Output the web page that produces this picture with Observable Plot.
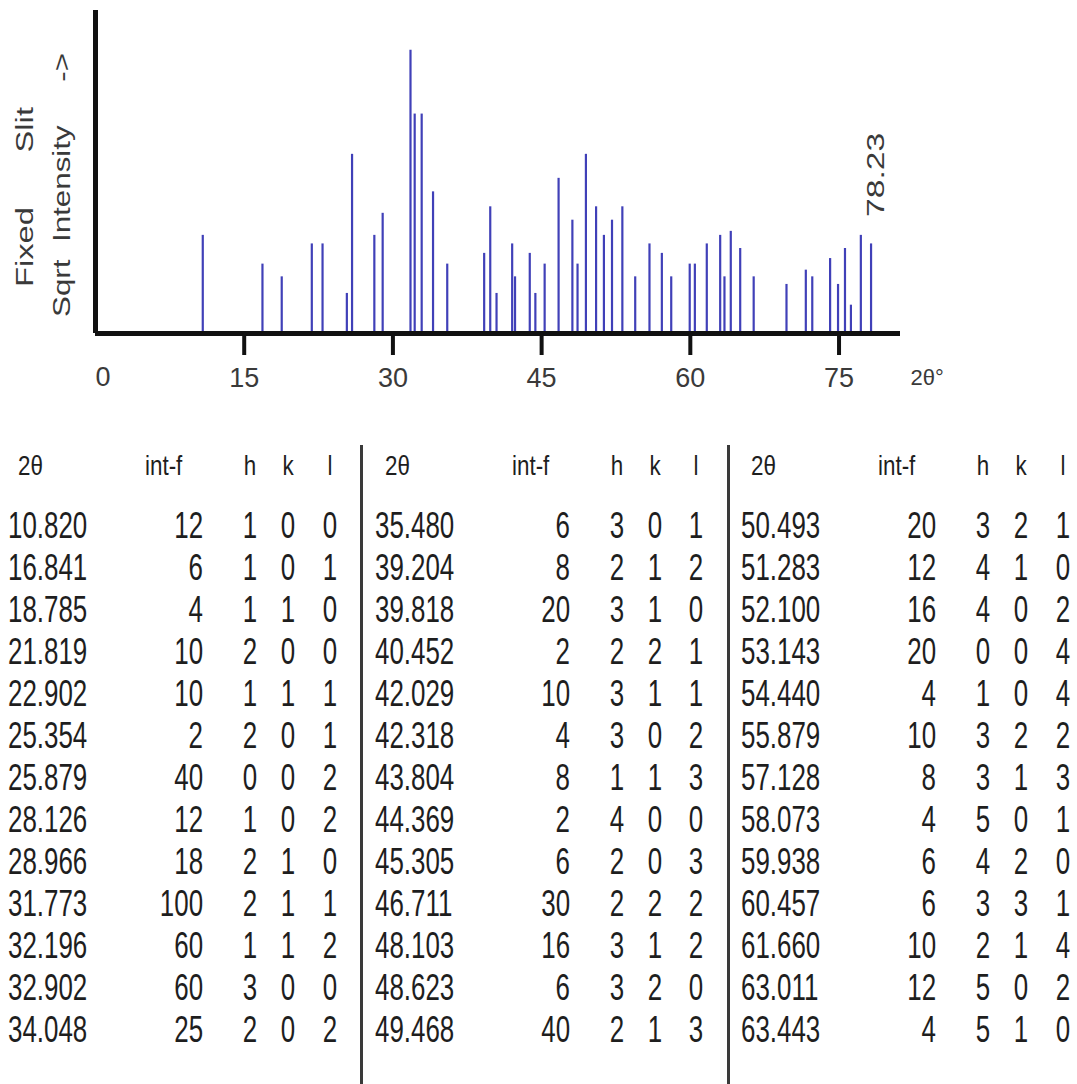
<!DOCTYPE html>
<html>
<head>
<meta charset="utf-8">
<script src="https://cdn.jsdelivr.net/npm/d3@7"></script>
<script src="https://cdn.jsdelivr.net/npm/@observablehq/plot@0.6"></script>
<style>
  body { margin: 0; background: #fff; font-family: "Liberation Sans", Arial, sans-serif; }
  #wrap { position: relative; width: 1077px; height: 1084px; overflow: hidden; background: #fff; }
  #chart { position: absolute; left: 0; top: 0; }
  #table { position: absolute; left: 0; top: 410px; width: 1077px; height: 674px; }
  .sep { position: absolute; width: 3px; background: #3a3a3a; top: 35px; height: 640px; }
  .cell { position: absolute; white-space: nowrap; color: #1e1e1e; height: 42px; line-height: 42px; }
  .cell span { display: inline-block; }
  .val { font-size: 36px; }
  .hdr { font-size: 28px; }
</style>
</head>
<body>
<div id="wrap">
  <div id="chart"></div>
  <div id="table"></div>
</div>
<script>
// ---------- data: table ----------
const tableTheta = ["10.820","16.841","18.785","21.819","22.902","25.354","25.879","28.126","28.966","31.773","32.196","32.902","34.048",
                    "35.480","39.204","39.818","40.452","42.029","42.318","43.804","44.369","45.305","46.711","48.103","48.623","49.468",
                    "50.493","51.283","52.100","53.143","54.440","55.879","57.128","58.073","59.938","60.457","61.660","63.011","63.443"];
const tableInt   = [12,6,4,10,10,2,40,12,18,100,60,60,25,
                    6,8,20,2,10,4,8,2,6,30,16,6,40,
                    20,12,16,20,4,10,8,4,6,6,10,12,4];
const tableH     = [1,1,1,2,1,2,0,1,2,2,1,3,2, 3,2,3,2,3,3,1,4,2,2,3,3,2, 3,4,4,0,1,3,3,5,4,3,2,5,5];
const tableK     = [0,0,1,0,1,0,0,0,1,1,1,0,0, 0,1,1,2,1,0,1,0,0,2,1,2,1, 2,1,0,0,0,2,1,0,2,3,1,0,1];
const tableL     = [0,1,0,0,1,1,2,2,0,1,2,0,2, 1,2,0,1,1,2,3,0,3,2,2,0,3, 1,0,2,4,4,2,3,1,0,1,4,2,0];
const headers    = ["2θ","int-f","h","k","l"];

// ---------- data: further peaks shown only in the stick pattern (estimated) ----------
const extraTheta = [64.08, 65.03, 66.39, 69.70, 71.65, 72.30, 74.10, 74.90, 75.60, 76.20, 77.20, 78.23];
const extraInt   = [13, 9, 4, 3, 5, 4, 7, 3, 9, 1, 12, 10];

// ---------- axis ----------
const xTicks = [15, 30, 45, 60, 75];
const xZero = [0];
const xLabel = "2θ°";
const yLabel1 = "Fixed      Slit";
const yLabel2 = "Sqrt  Intensity     ->";

const barColor = "#4040b8";

const peaks = tableTheta.map((t, i) => ({theta: +t, int: tableInt[i]}))
  .concat(extraTheta.map((t, i) => ({theta: t, int: extraInt[i]})));
const lastTheta = d3.max(peaks, d => d.theta);
const peakLabel = lastTheta.toFixed(2);

const chart = Plot.plot({
  width: 1077,
  height: 410,
  marginLeft: 95,
  marginRight: 177,
  marginTop: 10,
  marginBottom: 77,
  x: {domain: [0, 81.2], axis: null},
  y: {type: "sqrt", domain: [0, 130], axis: null},
  style: {fontFamily: "'Liberation Sans', Arial, sans-serif", background: "#fff", color: "#333"},
  marks: [
    Plot.ruleX(peaks, {x: "theta", y1: 0, y2: "int", stroke: barColor, strokeWidth: 2.2}),
    Plot.ruleY([0], {stroke: "#111", strokeWidth: 5}),
    Plot.ruleX([0], {stroke: "#111", strokeWidth: 5}),
    Plot.axisX({ticks: xTicks, tickSize: 22, strokeWidth: 4, stroke: "#111", tickPadding: 12,
                fontSize: 27, fill: "#3a3a3a", tickFormat: d => String(d), label: null}),
    Plot.text(xZero, {x: d => d, frameAnchor: "bottom", dy: 44, textAnchor: "start", lineAnchor: "middle",
                      text: d => String(d), fontSize: 27, fill: "#3a3a3a"}),
    Plot.text([xLabel], {frameAnchor: "bottom-right", dx: 10, dy: 44, textAnchor: "start", lineAnchor: "middle",
                         fontSize: 22, fill: "#3a3a3a"}),
    Plot.text(peaks.filter(d => d.theta === lastTheta), {x: "theta", y: "int", text: () => peakLabel,
              rotate: -90, textAnchor: "start", lineAnchor: "middle", dx: 6, dy: -27, fontSize: 23, fill: "#3a3a3a"}),
    Plot.text([yLabel1], {frameAnchor: "left", rotate: -90, textAnchor: "start", dx: -70, dy: 115, fontSize: 23, fill: "#3a3a3a"}),
    Plot.text([yLabel2], {frameAnchor: "left", rotate: -90, textAnchor: "start", dx: -33, dy: 145, fontSize: 23, fill: "#3a3a3a"})
  ]
});
const sel = d3.select(chart);
const stretch = (txt, len) => sel.selectAll("text").filter(function() { return this.textContent === txt; })
  .attr("xml:space", "preserve").style("white-space", "pre")
  .attr("textLength", len).attr("lengthAdjust", "spacingAndGlyphs");
stretch(yLabel1, 180);
stretch(yLabel2, 264);
stretch(peakLabel, 84);
document.getElementById("chart").appendChild(chart);

// ---------- table ----------
const table = document.getElementById("table");
const nGroups = 3, perGroup = 13;
const groupW = 366.5, groupX0 = -5;
const rowTop0 = 95.4, rowH = 42, headerTop = 34.5;
// column anchors within a group: [offset, alignment]
const cols = [[13, "left"], [208.5, "right"], [255, "center"], [293, "center"], [334.5, "center"]];
const hdrCols = [[23, "left"], [150, "left"], [255, "center"], [293, "center"], [334.5, "center"]];

function addCell(text, x, align, top, cls, scale) {
  const d = document.createElement("div");
  d.className = "cell " + cls;
  d.style.top = top + "px";
  const s = document.createElement("span");
  s.textContent = text;
  if (align === "left") { d.style.left = x + "px"; s.style.transformOrigin = "left center"; }
  else if (align === "right") { d.style.right = (1077 - x) + "px"; s.style.transformOrigin = "right center"; }
  else { d.style.left = x + "px"; d.style.transform = "translateX(-50%)"; s.style.transformOrigin = "center center"; }
  s.style.transform = "scaleX(" + scale + ")";
  d.appendChild(s);
  table.appendChild(d);
}

for (let g = 0; g < nGroups; g++) {
  const gx = groupX0 + g * groupW;
  if (g > 0) {
    const sep = document.createElement("div");
    sep.className = "sep";
    sep.style.left = (gx - 1.5) + "px";
    table.appendChild(sep);
  }
  headers.forEach((h, j) => addCell(h, gx + hdrCols[j][0], hdrCols[j][1], headerTop, "hdr", 0.8));
  for (let r = 0; r < perGroup; r++) {
    const i = g * perGroup + r;
    const vals = [tableTheta[i], String(tableInt[i]), String(tableH[i]), String(tableK[i]), String(tableL[i])];
    vals.forEach((v, j) => addCell(v, gx + cols[j][0], cols[j][1], rowTop0 + r * rowH, "val", 0.72));
  }
}
</script>
</body>
</html>
